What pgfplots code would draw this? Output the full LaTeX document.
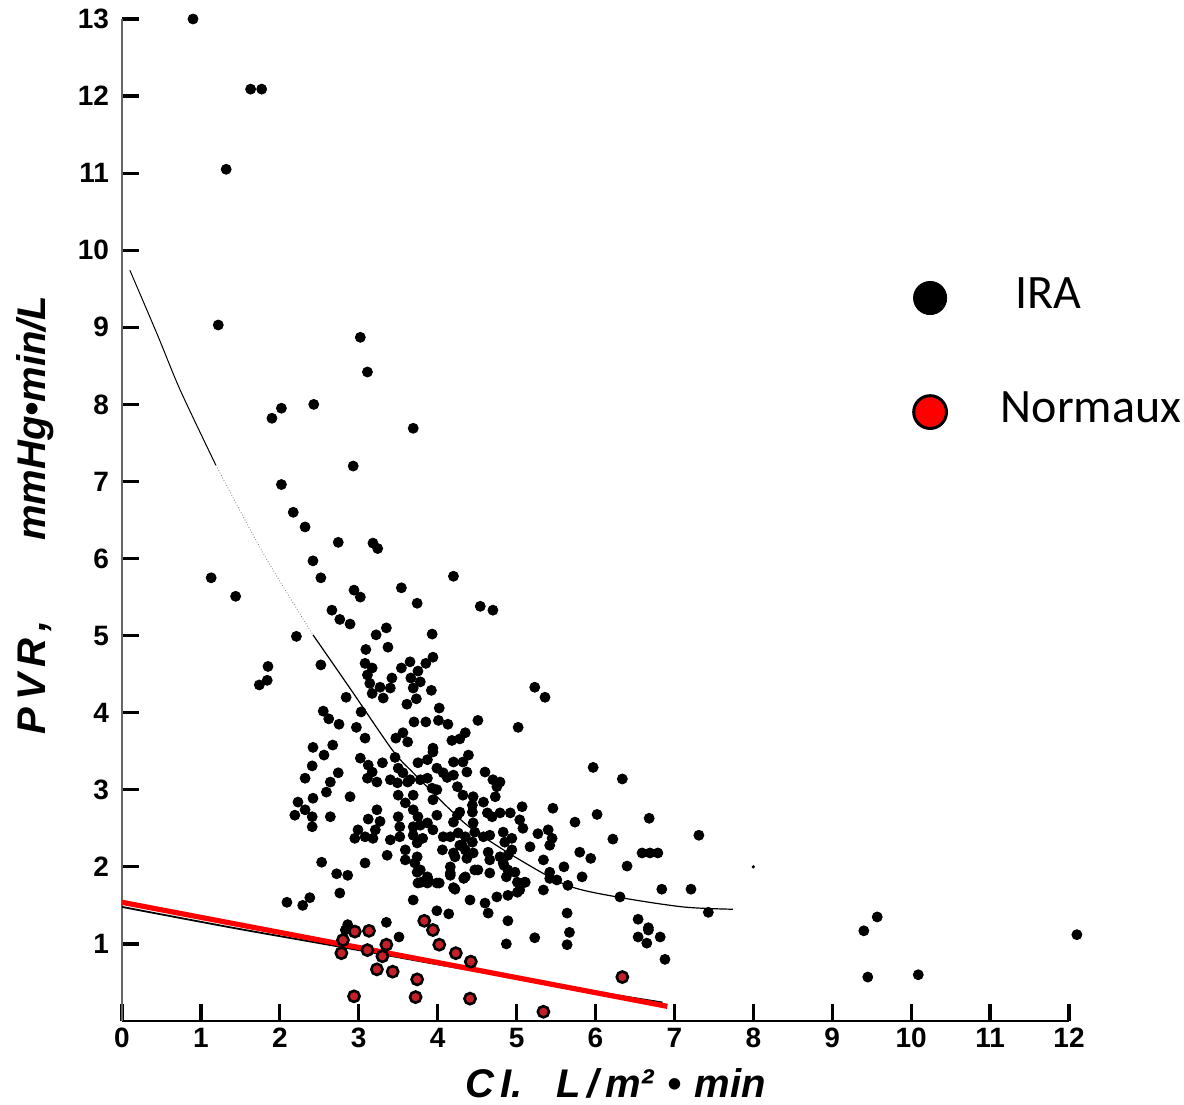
\documentclass[border=0pt]{standalone}
\usepackage{fontspec}
\setmainfont{Liberation Sans}
\newfontfamily\legfont{Carlito}
\usepackage{pgfplots}
\pgfplotsset{compat=1.18}
\definecolor{normred}{HTML}{C4202A}
\begin{document}
\begin{tikzpicture}
\useasboundingbox (0,0) rectangle (592pt,552pt);
\begin{axis}[at={(61pt,41.5pt)}, anchor=south west,
  scale only axis, width=473.5pt, height=501pt,
  xmin=0, xmax=12, ymin=0, ymax=13, clip=false,
  axis x line*=bottom, axis y line*=left,
  x axis line style={line width=1.2pt, -},
  y axis line style={black!60, line width=0.7pt, -},
  xtick={0,...,12}, ytick={1,...,13},
  minor tick num=0,
  tick align=inside,
  major tick length=8.5pt,
  tick style={black, line width=1.6pt},
  /pgf/number format/assume math mode=true,
  ticklabel style={font=\bfseries\fontsize{14}{14}\selectfont},
  yticklabel style={xshift=-3pt},
  xlabel={C\,I.\ \ \ L\,/\,m²\,\,•\,\,min},
  ylabel={P\,V\,R\,,\hspace{40pt}mmHg•min/L},
  xlabel style={font=\bfseries\itshape\fontsize{20}{20}\selectfont, at={(axis description cs:0.521,0)}, anchor=center, yshift=-31pt},
  ylabel style={font=\bfseries\itshape\fontsize{20}{20}\selectfont, at={(axis description cs:-0.092,0.505)}, anchor=center},
]
% upper fitted curve (IRA)
\addplot[black, line width=0.5pt, smooth] coordinates {(0.10,9.74) (0.45,8.90) (0.74,8.18) (1.19,7.21)};
\addplot[black!50, line width=0.4pt, densely dotted, smooth] coordinates {(1.19,7.21) (1.80,6.05) (2.42,5.01)};
\addplot[black, line width=0.6pt, smooth] coordinates {(2.42,5.01) (2.90,4.30) (3.43,3.51) (3.69,3.22) (4.16,2.74) (4.45,2.48) (5.01,2.11) (5.64,1.76) (6.27,1.61) (7.11,1.48) (7.74,1.45)};
% lower fitted curve
\addplot[black, line width=0.9pt, smooth] coordinates {(0,1.48) (1.40,1.21) (2.78,0.96) (4.41,0.66) (6.00,0.38) (6.85,0.24)};
% IRA points
\addplot[only marks, mark=*, mark size=2.5pt, black] coordinates {
(0.90,13.0)(1.63,12.09)(1.77,12.09)(1.32,11.05)(1.22,9.03)(3.02,8.87)(3.11,8.42)(1.90,7.82)(2.02,7.95)(2.43,8.0)
(3.69,7.69)(2.93,7.20)(2.02,6.96)(2.17,6.60)(2.32,6.41)(2.74,6.21)(3.18,6.20)(3.24,6.13)(2.42,5.97)(1.13,5.75)
(1.44,5.51)(4.20,5.77)(2.52,5.75)(2.94,5.59)(3.02,5.50)(3.54,5.62)(4.54,5.38)(4.70,5.33)(2.21,4.99)(2.66,5.33)
(2.76,5.21)(2.89,5.15)(1.85,4.60)(1.84,4.42)(1.74,4.36)(5.23,4.33)(5.36,4.20)
(3.74,5.42)(3.35,5.10)(3.22,5.01)(3.93,5.02)(3.37,4.85)(3.09,4.82)(2.52,4.62)(3.08,4.64)(3.65,4.66)(3.94,4.72)
(3.85,4.64)(3.54,4.58)(3.17,4.58)(3.75,4.54)(3.11,4.49)(3.66,4.45)(3.78,4.40)(3.42,4.45)(3.14,4.38)(3.27,4.33)
(3.40,4.32)(3.69,4.32)(3.92,4.29)(3.17,4.25)(2.84,4.20)(3.31,4.19)(3.61,4.11)(3.73,4.18)(4.02,4.06)(2.55,4.02)
(2.62,3.92)(2.75,3.85)(3.03,4.01)(2.97,3.81)(3.08,3.67)(3.70,3.88)(3.85,3.88)(4.01,3.90)(4.13,3.85)(4.51,3.90)
(3.47,3.67)(3.56,3.74)(3.62,3.62)(4.18,3.64)(4.35,3.74)(4.28,3.66)(2.42,3.55)(2.67,3.58)(3.94,3.54)
(2.56,3.45)(2.41,3.31)(3.02,3.41)(3.12,3.32)(3.17,3.23)(3.30,3.35)(3.46,3.42)(3.50,3.28)(3.56,3.22)(3.65,3.13)
(3.75,3.35)(3.87,3.39)(3.94,3.49)(3.99,3.28)(4.07,3.22)(4.20,3.36)(4.32,3.36)(4.39,3.45)(4.37,3.23)(2.32,3.15)
(2.64,3.10)(2.74,3.22)(3.11,3.15)(3.23,3.10)(3.40,3.13)(3.49,3.09)(3.62,3.10)(3.78,3.13)(3.87,3.15)(4.12,3.16)
(4.20,3.19)(3.93,3.02)(3.99,3.00)(4.25,3.04)(2.59,2.97)(2.42,2.89)(2.89,2.91)(3.50,2.93)(3.69,2.93)(3.59,2.83)
(3.94,2.87)(4.32,2.93)(4.45,2.91)(4.44,2.80)(2.23,2.84)(2.19,2.67)(2.32,2.74)(2.41,2.65)(2.41,2.52)(2.64,2.65)
(3.23,2.74)(3.12,2.62)(3.27,2.59)(3.50,2.65)(3.52,2.52)(3.69,2.74)(3.75,2.65)(3.69,2.52)(3.78,2.54)(3.87,2.57)
(3.94,2.48)(3.99,2.67)(4.28,2.71)(4.20,2.58)(4.44,2.71)(4.45,2.57)(2.99,2.48)(3.08,2.39)(3.21,2.48)(3.18,2.37)
(2.95,2.37)(3.40,2.35)(3.52,2.39)(3.69,2.41)(3.74,2.31)(3.81,2.37)(4.07,2.39)(4.16,2.39)(4.26,2.44)(4.35,2.39)
(4.44,2.32)(4.28,2.28)(4.06,2.22)(4.20,2.18)(4.35,2.22)(4.37,2.11)(3.36,2.15)(3.59,2.22)(3.59,2.09)(3.74,2.13)
(3.71,2.05)(3.78,1.96)(3.87,1.87)(3.87,1.79)(3.75,1.79)(3.99,1.79)(4.16,1.92)(4.20,1.73)(4.35,1.87)(4.41,1.57)
(2.53,2.06)(3.08,2.05)(2.72,1.91)(2.86,1.89)(2.76,1.66)(2.09,1.54)(2.29,1.50)(2.38,1.60)(3.69,1.57)
(5.02,3.81)(4.60,3.23)(5.97,3.29)(6.34,3.14)(4.70,3.13)(4.79,3.10)(4.75,3.04)(4.73,2.91)(4.58,2.84)(4.25,2.67)
(4.63,2.70)(4.69,2.65)(4.79,2.70)(4.92,2.70)(5.07,2.78)(5.46,2.76)(5.74,2.58)(6.02,2.68)(6.68,2.63)(5.04,2.61)
(5.08,2.50)(5.27,2.43)(5.40,2.48)(5.45,2.37)(5.42,2.28)(4.47,2.45)(4.58,2.39)(4.66,2.41)(4.83,2.45)(4.85,2.32)
(4.94,2.37)(4.31,2.28)(4.45,2.18)(4.22,2.13)(4.64,2.19)(4.66,2.09)(4.79,2.13)(4.83,2.05)(4.89,2.15)(4.94,2.22)
(5.17,2.26)(6.22,2.36)(7.31,2.41)(5.80,2.19)(5.94,2.11)(6.40,2.01)(6.59,2.18)(6.69,2.18)(6.79,2.18)(5.34,2.09)
(5.60,2.00)(5.42,1.93)(5.42,1.85)(5.51,1.83)(5.65,1.76)(5.83,1.87)(4.16,2.00)(4.51,1.96)(4.66,1.92)(4.89,1.96)
(4.98,1.93)(5.11,1.80)(5.01,1.80)(4.22,1.71)(4.60,1.53)(4.64,1.40)(4.75,1.61)(4.89,1.63)(5.01,1.67)(5.34,1.70)
(4.89,1.30)(5.64,1.40)(6.31,1.61)(6.54,1.32)(6.67,1.21)(6.84,1.71)(7.21,1.71)(7.43,1.41)
(3.99,1.43)(4.14,1.39)(4.87,1.00)(5.23,1.08)(5.67,1.15)(5.64,0.99)(6.67,1.18)(6.54,1.09)(6.65,1.01)(6.82,1.09)
(6.88,0.80)(2.86,1.25)(2.83,1.18)(3.35,1.28)(3.51,1.09)(3.74,1.93)(3.79,1.80)(3.88,1.83)(4.02,1.79)(4.16,1.89)
(4.33,1.85)(4.47,1.96)(4.84,2.02)(4.87,1.87)(5.04,1.70)(5.10,1.80)
(9.40,1.17)(9.57,1.35)(9.45,0.57)(10.09,0.60)(12.10,1.12)};
% speck
\addplot[only marks, mark=*, mark size=0.6pt, black] coordinates {(8.0,2.0)};
% red regression line (Normaux)
\addplot[red, line width=2.6pt] coordinates {(0,1.54) (6.91,0.19)};
% Normaux points
\addplot[only marks, mark=*, mark size=2.8pt, mark options={fill=normred, draw=black, line width=1.3pt}] coordinates {
(2.80,1.05)(2.78,0.88)(2.95,1.16)(3.13,1.17)(3.11,0.92)(3.35,0.99)(3.30,0.84)(3.23,0.67)(3.43,0.64)(3.83,1.30)
(3.94,1.18)(4.02,0.99)(4.23,0.88)(4.42,0.77)(3.74,0.54)(3.72,0.31)(4.41,0.29)(2.94,0.32)(5.34,0.12)(6.34,0.57)};
% legend symbols
\addplot[only marks, mark=*, mark size=8.3pt, black] coordinates {(10.24,9.38)};
\addplot[only marks, mark=*, mark size=8.2pt, mark options={fill=red, draw=black, line width=1.5pt}] coordinates {(10.24,7.90)};
\node[anchor=west, inner sep=0pt, font=\legfont\fontsize{24}{24}\selectfont] at (axis cs:11.32,9.44) {IRA};
\node[anchor=west, inner sep=0pt, font=\legfont\fontsize{24}{24}\selectfont] at (axis cs:11.13,7.96) {Normaux};
\end{axis}
\end{tikzpicture}
\end{document}
